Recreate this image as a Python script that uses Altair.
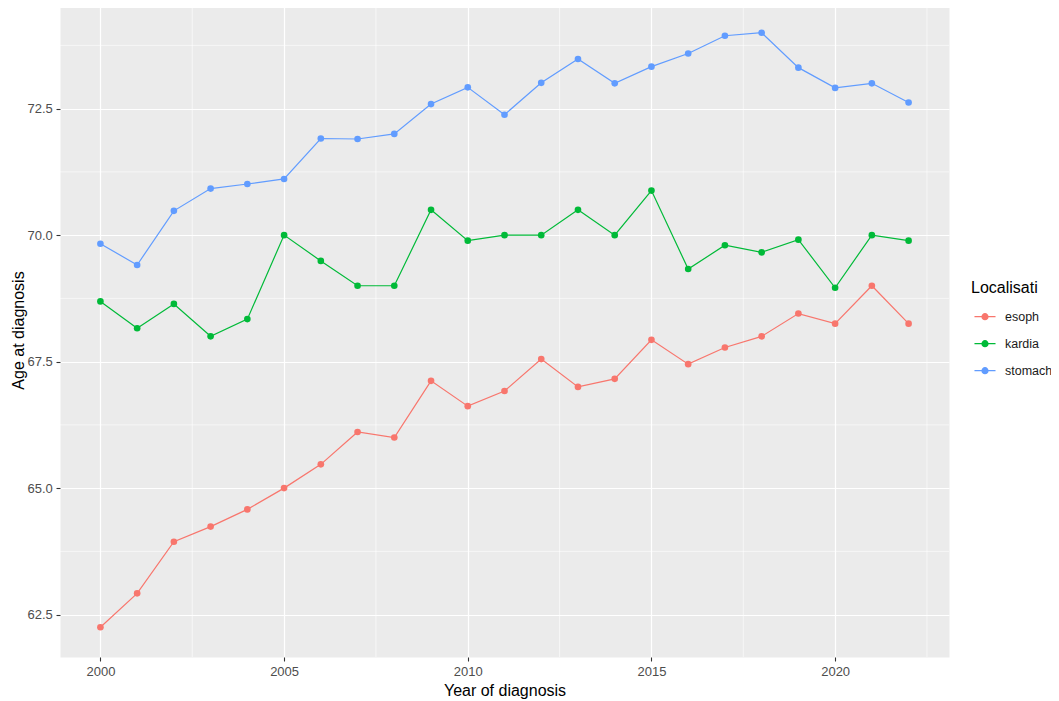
import altair as alt
import pandas as pd

years = list(range(2000, 2023))
esoph = [62.25, 62.92, 63.94, 64.24, 64.58, 65.00, 65.47, 66.11, 66.00, 67.12, 66.62, 66.92,
         67.55, 67.00, 67.16, 67.93, 67.45, 67.78, 68.00, 68.45, 68.25, 69.00, 68.25]
kardia = [68.69, 68.16, 68.64, 68.00, 68.34, 70.00, 69.49, 69.00, 69.00, 70.50, 69.89, 70.00,
          70.00, 70.50, 70.00, 70.88, 69.33, 69.80, 69.66, 69.91, 68.96, 70.00, 69.89]
stomach = [69.83, 69.41, 70.48, 70.92, 71.01, 71.11, 71.91, 71.90, 72.00, 72.59, 72.92, 72.38,
           73.01, 73.48, 73.00, 73.33, 73.59, 73.94, 74.00, 73.31, 72.91, 73.00, 72.62]
groups = ["esoph", "kardia", "stomach"]
colors = ["#F8766D", "#00BA38", "#619CFF"]

x_major = [2000, 2005, 2010, 2015, 2020]
x_minor = [2002.5, 2007.5, 2012.5, 2017.5, 2022.5]
y_major = [62.5, 65.0, 67.5, 70.0, 72.5]
y_minor = [63.75, 66.25, 68.75, 71.25, 73.75]

rows = []
for g, vals in zip(groups, [esoph, kardia, stomach]):
    for yr, v in zip(years, vals):
        rows.append({"Year": yr, "Age": v, "Localisati": g})
df = pd.DataFrame(rows)

# ggplot-like 5% expansion
xmin, xmax = min(years), max(years)
xpad = (xmax - xmin) * 0.05
allv = esoph + kardia + stomach
ymin, ymax = min(allv), max(allv)
ypad = (ymax - ymin) * 0.05

FONT = "Liberation Sans"

xscale = alt.Scale(domain=[xmin - xpad, xmax + xpad], nice=False, zero=False)
yscale = alt.Scale(domain=[ymin - ypad, ymax + ypad], nice=False, zero=False)

legend_path = ("M-0.81,0L0.81,0"
               "M0.23,0A0.23,0.23,0,1,1,-0.23,0A0.23,0.23,0,1,1,0.23,0"
               "M0.155,0A0.155,0.155,0,1,1,-0.155,0A0.155,0.155,0,1,1,0.155,0"
               "M0.08,0A0.08,0.08,0,1,1,-0.08,0A0.08,0.08,0,1,1,0.08,0"
               "M0.02,0A0.02,0.02,0,1,1,-0.02,0A0.02,0.02,0,1,1,0.02,0")

color_scale = alt.Scale(domain=groups, range=colors)

minor_x = alt.Chart(pd.DataFrame({"v": x_minor})).mark_rule(
    color="white", strokeWidth=0.6
).encode(x=alt.X("v:Q", scale=xscale))

minor_y = alt.Chart(pd.DataFrame({"v": y_minor})).mark_rule(
    color="white", strokeWidth=0.6
).encode(y=alt.Y("v:Q", scale=yscale))

base = alt.Chart(df)

lines = base.mark_line(strokeWidth=1.2).encode(
    x=alt.X("Year:Q", scale=xscale,
            axis=alt.Axis(values=x_major, format="d", title="Year of diagnosis",
                          titleY=33, titleBaseline="middle")),
    y=alt.Y("Age:Q", scale=yscale,
            axis=alt.Axis(values=y_major, format=".1f", title="Age at diagnosis",
                          titleX=-41.6, titleY=327, titleAngle=270,
                          titleAlign="center", titleBaseline="middle")),
    color=alt.Color("Localisati:N", scale=color_scale,
                    legend=alt.Legend(
                        orient="none", legendX=911, legendY=277,
                        title="Localisati", titleFontSize=16, titleFont=FONT,
                        titleFontWeight="normal", titleColor="black", titlePadding=6.7,
                        labelFontSize=12.5, labelFont=FONT, labelColor="#1A1A1A",
                        labelOffset=6, symbolType=legend_path, symbolSize=676,
                        symbolStrokeWidth=1.2, rowPadding=6, padding=0)),
    detail="Localisati:N",
)

points = base.mark_circle(size=44, opacity=1).encode(
    x=alt.X("Year:Q", scale=xscale),
    y=alt.Y("Age:Q", scale=yscale),
    color=alt.Color("Localisati:N", scale=color_scale, legend=None),
)

chart = alt.layer(minor_x, minor_y, lines, points).properties(
    width=889,
    height=654,
    autosize=alt.AutoSizeParams(type="none"),
    padding={"left": 52, "top": -5, "right": 102, "bottom": 42},
    background="white",
).configure_view(
    fill="#EBEBEB", stroke="transparent"
).configure_axis(
    grid=True, gridColor="white", gridWidth=1.2, gridOpacity=1,
    domain=False, tickColor="#333333", tickWidth=1.1, tickSize=4,
    labelFont=FONT, labelFontSize=13, labelColor="#4D4D4D",
    titleFont=FONT, titleFontSize=16, titleFontWeight="normal", titleColor="black",
).configure_axisX(
    labelPadding=4
).configure_axisY(
    labelPadding=3.7
)

chart.save("out.html", embed_options={"renderer": "svg", "actions": False})
